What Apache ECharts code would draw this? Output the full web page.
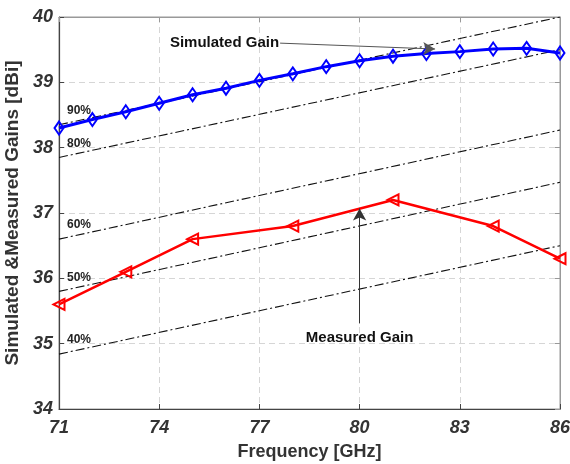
<!DOCTYPE html>
<html><head><meta charset="utf-8">
<script src="https://cdn.jsdelivr.net/npm/echarts@6/dist/echarts.min.js"></script>
<style>html,body{margin:0;padding:0;background:#fff}#c{width:570px;height:464px}</style>
</head><body><div id="c"></div>
<script>
// ---- data ----
const xTicks = [71, 74, 77, 80, 83, 86];
const yTicks = [34, 35, 36, 37, 38, 39, 40];
const simFreq = [71,72,73,74,75,76,77,78,79,80,81,82,83,84,85,86];
const simGain = [38.30,38.43,38.55,38.68,38.81,38.91,39.03,39.13,39.24,39.33,39.40,39.44,39.47,39.51,39.52,39.45];
const measFreq = [71,73,75,78,81,84,86];
const measGain = [35.6,36.1,36.6,36.8,37.2,36.8,36.3];
const effNames = ['90%','80%','60%','50%','40%'];
const effStart = [38.35,37.85,36.60,35.80,34.84]; // gain at 71 GHz
const effEnd   = [40.00,39.50,38.27,37.47,36.50]; // gain at 86 GHz
const simArrow = [[77.62,39.60],[82.26,39.51]];
const measArrow = [[80,35.31],[80,37.07]];
const simText = 'Simulated Gain';
const measText = 'Measured Gain';

const FONT = 'Liberation Sans, Arial, sans-serif';
const chart = echarts.init(document.getElementById('c'));

const effSeries = effNames.map((n,i)=>({
  type:'line', name:n, silent:true, z:1,
  showSymbol:true, symbolSize:0, symbol:'circle',
  lineStyle:{color:'#111', width:1.1, type:[9,3,2,3]},
  itemStyle:{color:'#111'},
  data:[
    {value:[xTicks[0], effStart[i]], label:{show:true, formatter:n, position:'right', distance:4, offset:[4,-14],
      color:'#222', fontSize:12, fontWeight:'bold', fontFamily:FONT}},
    {value:[xTicks[xTicks.length-1], effEnd[i]]}
  ]
}));

chart.setOption({
  animation:false,
  backgroundColor:'#fff',
  grid:{left:59, right:10, top:17, bottom:55, show:true, borderColor:'#999', borderWidth:1, outerBoundsMode:'none', containLabel:false},
  xAxis:[{
    type:'value', min:71, max:86,
    axisLine:{show:true, lineStyle:{color:'#444', width:1.2}},
    axisTick:{show:true, inside:true, length:5, lineStyle:{color:'#444'}, customValues:xTicks},
    axisLabel:{customValues:xTicks, color:'#333', fontSize:18, fontWeight:'bold', fontStyle:'italic', fontFamily:FONT, margin:10},
    splitLine:{show:true, lineStyle:{color:'#d6d6d6', type:[6,4], width:1}},
    name:'Frequency [GHz]', nameLocation:'middle', nameGap:34,
    nameTextStyle:{color:'#333', fontSize:18, fontWeight:'bold', fontFamily:FONT}
  },{
    type:'value', min:71, max:86, position:'top',
    axisLine:{show:true, lineStyle:{color:'#999'}},
    axisTick:{show:true, inside:true, length:5, lineStyle:{color:'#999'}, customValues:xTicks},
    axisLabel:{show:false, customValues:xTicks}, splitLine:{show:false}
  }],
  yAxis:[{
    type:'value', min:34, max:40, interval:1,
    axisLine:{show:true, lineStyle:{color:'#444', width:1.2}},
    axisTick:{show:true, inside:true, length:5, lineStyle:{color:'#444'}},
    splitLine:{show:true, lineStyle:{color:'#d6d6d6', type:[6,4], width:1}},
    axisLabel:{color:'#333', fontSize:18, fontWeight:'bold', fontStyle:'italic', fontFamily:FONT, margin:6},
    name:'Simulated &Measured Gains [dBi]', nameLocation:'middle', nameGap:32,
    nameTextStyle:{color:'#333', fontSize:19, fontWeight:'bold', fontFamily:FONT}
  },{
    type:'value', min:34, max:40, interval:1, position:'right',
    axisLine:{show:true, lineStyle:{color:'#999'}},
    axisTick:{show:true, inside:true, length:5, lineStyle:{color:'#999'}},
    axisLabel:{show:false}, splitLine:{show:false}
  }],
  series:[
    ...effSeries,
    {
      type:'line', name:'Measured Gain', z:3,
      data:measFreq.map((f,i)=>[f, measGain[i]]),
      symbol:'triangle', symbolRotate:90, symbolSize:11,
      lineStyle:{color:'#ff0000', width:2.5},
      itemStyle:{color:'rgba(255,255,255,0)', borderColor:'#ff0000', borderWidth:2},
      markLine:{silent:true, symbol:['none','arrow'], symbolSize:[10,12],
        lineStyle:{color:'#333', width:1, type:'solid'}, label:{show:false},
        data:[[{coord:measArrow[0]},{coord:measArrow[1]}]]},
      markPoint:{silent:true, symbol:'circle', symbolSize:0,
        label:{show:true, formatter:measText, position:'bottom', distance:7, color:'#111', fontSize:15, fontWeight:'bold', fontFamily:FONT},
        data:[{coord:measArrow[0]}]}
    },
    {
      type:'line', name:'Simulated Gain', z:4,
      data:simFreq.map((f,i)=>[f, simGain[i]]),
      symbol:'diamond', symbolSize:[9,13],
      lineStyle:{color:'#0000ff', width:3},
      itemStyle:{color:'rgba(255,255,255,0)', borderColor:'#0000ff', borderWidth:2},
      markLine:{silent:true, symbol:['none','arrow'], symbolSize:[10,12],
        lineStyle:{color:'#555', width:1, type:'solid'}, label:{show:false},
        data:[[{coord:simArrow[0]},{coord:simArrow[1]}]]},
      markPoint:{silent:true, symbol:'circle', symbolSize:0,
        label:{show:true, formatter:simText, position:'left', distance:1, color:'#111', fontSize:15, fontWeight:'bold', fontFamily:FONT},
        data:[{coord:simArrow[0]}]}
    }
  ]
});
</script></body></html>
